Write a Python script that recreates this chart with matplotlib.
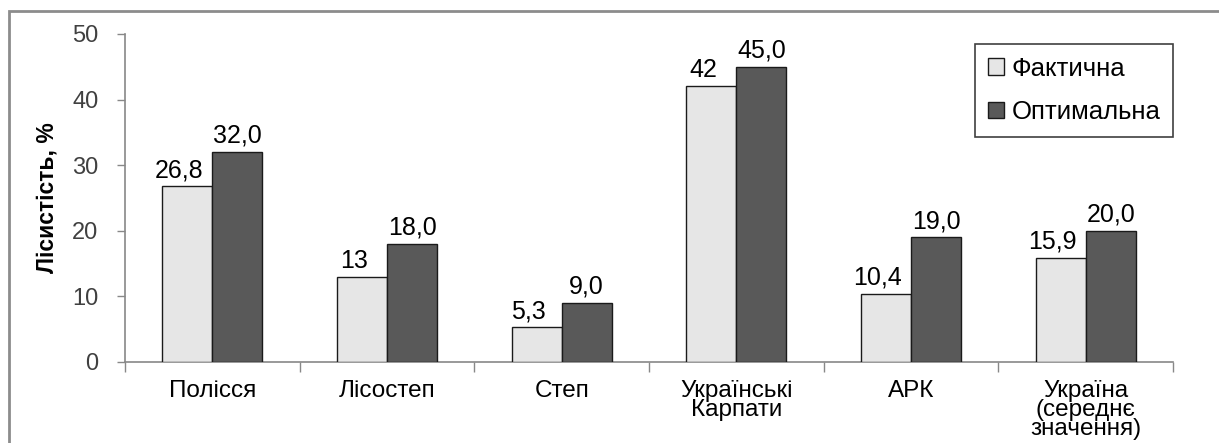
import matplotlib.pyplot as plt
from matplotlib.patches import Rectangle
import numpy as np

plt.rcParams['font.family'] = ['Liberation Sans', 'DejaVu Sans']

# Дані
регіони = ['Полісся', 'Лісостеп', 'Степ', 'Українські\nКарпати', 'АРК',
           'Україна\n(середнє\nзначення)']
фактична = [26.8, 13, 5.3, 42, 10.4, 15.9]
оптимальна = [32.0, 18.0, 9.0, 45.0, 19.0, 20.0]

fig = plt.figure(figsize=(12.19, 4.43), dpi=100)
ax = fig.add_axes([125 / 1219, 81 / 443, 1048 / 1219, 328 / 443])

x = np.arange(len(регіони))
w = 0.287
b1 = ax.bar(x - w / 2, фактична, w, color='#e6e6e6', edgecolor='#1a1a1a',
            linewidth=1, label='Фактична', zorder=3)
b2 = ax.bar(x + w / 2, оптимальна, w, color='#595959', edgecolor='#1a1a1a',
            linewidth=1, label='Оптимальна', zorder=3)

# Підписи значень
for rect, v in zip(b1, фактична):
    ax.annotate(f'{v:g}'.replace('.', ','),
                (rect.get_x() + rect.get_width() / 2, rect.get_height()),
                xytext=(-6, 3), textcoords='offset points',
                ha='center', va='bottom', fontsize=18)
for rect, v in zip(b2, оптимальна):
    ax.annotate(f'{v:.1f}'.replace('.', ','),
                (rect.get_x() + rect.get_width() / 2, rect.get_height()),
                xytext=(0, 3), textcoords='offset points',
                ha='center', va='bottom', fontsize=18)

ax.set_xlim(-0.5, len(регіони) - 0.5)
ax.set_ylim(0, 50)
ax.set_yticks(range(0, 51, 10))
ax.tick_params(axis='y', labelsize=17, labelcolor='#404040', color='#888888',
               length=6, width=1, pad=13)

# мітки між категоріями
ax.set_xticks(np.arange(-0.5, len(регіони), 1))
ax.set_xticklabels([])
ax.tick_params(axis='x', color='#888888', length=7, width=1)
for xi, name in zip(x, регіони):
    ax.text(xi, -2.7, name, ha='center', va='top', fontsize=17.5,
            linespacing=0.84)

for s in ['top', 'right']:
    ax.spines[s].set_visible(False)
for s in ['left', 'bottom']:
    ax.spines[s].set_color('#888888')
    ax.spines[s].set_linewidth(1.2)

ax.set_ylabel('Лісистість, %', fontsize=16.5, fontweight='bold', labelpad=10)

leg = ax.legend(loc='upper right', bbox_to_anchor=(1.0, 0.97), fontsize=18.5,
                fancybox=False, framealpha=1, edgecolor='#404040',
                handlelength=0.6, handleheight=0.6, handletextpad=0.3,
                labelspacing=0.75, borderpad=0.5, borderaxespad=0)
leg.get_frame().set_linewidth(1.2)

# рамка навколо діаграми
fig.patches.append(Rectangle((9 / 1219, -0.1), 1.2, 1.1 - 11 / 443,
                             transform=fig.transFigure, fill=False,
                             edgecolor='#8c8c8c', linewidth=2))

fig.savefig('out.png', dpi=100)
